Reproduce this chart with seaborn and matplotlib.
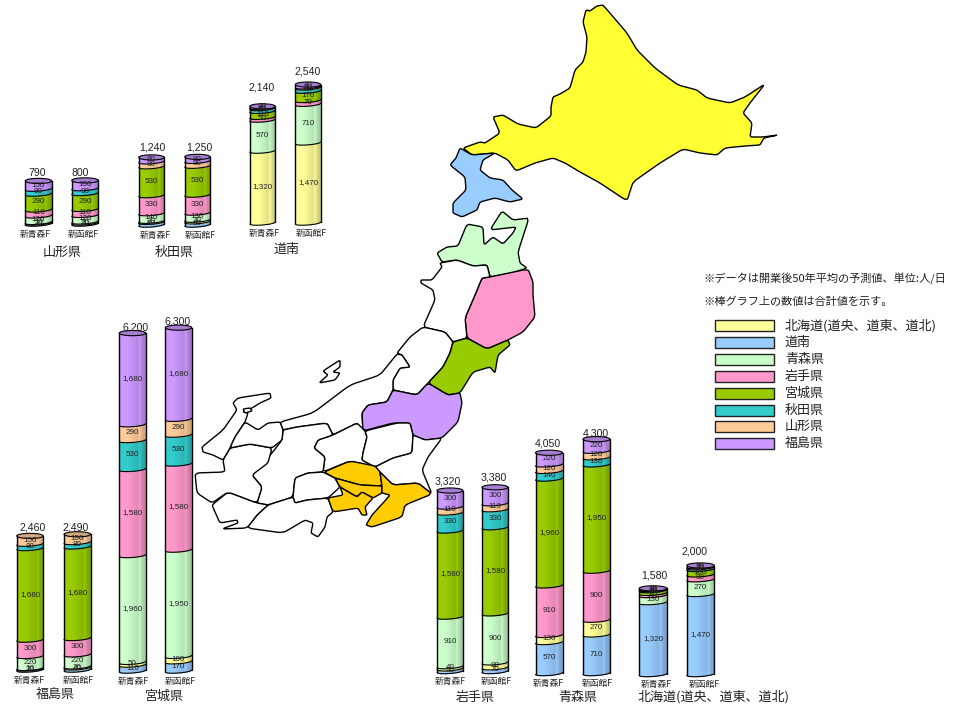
import numpy as np
import matplotlib
matplotlib.use("Agg")
import matplotlib.pyplot as plt
from matplotlib.patches import Polygon, Ellipse, Rectangle
from matplotlib.transforms import ScaledTranslation
import seaborn as sns

# ---------- ridership by origin prefecture (persons per day) ----------
STATIONS = ["新青森F", "新函館F"]
AREAS = ["北海道(道央、道東、道北)", "道南", "青森県", "岩手県", "宮城県", "秋田県", "山形県", "福島県"]

# values follow AREAS; 0 means the area has no segment
yamagata_aomori = [10, 20, 120, 110, 290, 90, 0, 150]
yamagata_hakodate = [20, 20, 120, 110, 290, 90, 0, 150]
akita_aomori = [20, 50, 140, 330, 530, 0, 90, 80]
akita_hakodate = [30, 60, 130, 330, 530, 0, 90, 80]
dounan_aomori = [1320, 0, 570, 50, 110, 50, 20, 20]
dounan_hakodate = [1470, 0, 710, 70, 170, 60, 20, 40]
fukushima_aomori = [10, 20, 220, 300, 1680, 80, 150, 0]
fukushima_hakodate = [20, 40, 220, 300, 1680, 80, 150, 0]
miyagi_aomori = [50, 110, 1960, 1580, 0, 530, 290, 1680]
miyagi_hakodate = [100, 170, 1950, 1580, 0, 530, 290, 1680]
iwate_aomori = [40, 50, 910, 0, 1580, 330, 110, 300]
iwate_hakodate = [90, 70, 900, 0, 1580, 330, 110, 300]
aomori_aomori = [130, 570, 0, 910, 1960, 140, 120, 220]
aomori_hakodate = [270, 710, 0, 900, 1950, 130, 120, 220]
hokkaido_aomori = [0, 1320, 130, 40, 50, 20, 10, 10]
hokkaido_hakodate = [0, 1470, 270, 90, 100, 30, 20, 20]

BAR_COLORS = ["#FFFF99", "#99CCFF", "#CCFFCC", "#FF99CC", "#99CC00", "#33CCCC", "#FFCC99", "#CC99FF"]

# stacks start with 道南, then the rest of Hokkaido, then the AREAS order
STACK_ORDER = [1, 0, 2, 3, 4, 5, 6, 7]

W, H = 956, 707
PX_PER_UNIT = 0.0545

# layout per group, in figure pixels: first bar centre, bar spacing, bar width, rim y,
# title centre, total label centres, horizontal nudge of the station labels
GROUPS = [
    ("山形県", yamagata_aomori, yamagata_hakodate, 38.5, 46.5, 26.5, 224, (62, 252), [(37, 173), (80, 173)], (-3.5, -2)),
    ("秋田県", akita_aomori, akita_hakodate, 151.5, 46, 25.5, 225, (174, 252), [(152, 148), (199, 148)], (3.5, 2.5)),
    ("道南", dounan_aomori, dounan_hakodate, 262.5, 45.5, 25.5, 223, (287, 249), [(262, 87), (308, 72)], (1.5, 3)),
    ("福島県", fukushima_aomori, fukushima_hakodate, 30, 47.3, 26.5, 670, (55.5, 694), [(33, 527), (76, 527)], (-1, 1)),
    ("宮城県", miyagi_aomori, miyagi_hakodate, 132.5, 46, 26.5, 671, (164, 696), [(136, 327), (178, 321)], (0.5, 1.5)),
    ("岩手県", iwate_aomori, iwate_hakodate, 450, 45, 26, 671.5, (475.5, 697), [(448, 481), (494, 477)], (0, 1)),
    ("青森県", aomori_aomori, aomori_hakodate, 549, 47.5, 27, 673.5, (578, 697), [(548, 443), (596, 433)], (-1, 0.5)),
    ("北海道(道央、道東、道北)", hokkaido_aomori, hokkaido_hakodate, 653, 47.5, 27.5, 674.5, (714, 697),
     [(654, 575.5), (695, 552)], (3, 3.5)),
]

# ---------- prefecture outlines, in figure pixels ----------
YELLOW, BLUE, GREEN, PINK, OLIVE, PURPLE, GOLD = (
    "#FFFF33", "#99CCFF", "#CCFFCC", "#FF99CC", "#99CC00", "#CC99FF", "#FFCC00")
MAP_SHAPES = [
    (YELLOW, [(603, 5), (597, 6), (590, 11), (586, 10), (583, 22), (587, 37), (586, 52), (583, 62), (575, 70),
              (570, 88), (560, 94), (553, 97), (551, 107), (551, 116), (536, 128), (518, 124), (503, 115),
              (493, 117), (500, 133), (485, 143), (480, 142), (463, 148), (472, 155), (495, 153), (508, 160),
              (516, 171), (535, 163), (553, 158), (565, 163), (580, 172), (600, 183), (627, 201), (633, 182),
              (660, 163), (683, 149), (700, 153), (717, 155), (725, 148), (745, 146), (760, 145), (764, 138),
              (778, 135), (763, 137), (750, 137), (752, 123), (743, 113), (750, 103), (765, 84), (745, 97),
              (730, 103), (707, 98), (697, 90), (678, 85), (655, 68), (637, 50), (627, 33)]),
    (BLUE, [(460, 148), (456, 158), (450, 165), (465, 177), (466, 190), (453, 203), (453, 213), (462, 217),
            (477, 210), (480, 202), (495, 198), (510, 202), (523, 199), (512, 190), (503, 180), (490, 178),
            (480, 170), (483, 160), (495, 153), (472, 155)]),
    (GREEN, [(437, 253), (447, 247), (458, 246), (467, 224), (483, 227), (484, 245), (493, 237), (503, 244),
             (513, 233), (516, 227), (490, 230), (502, 211), (513, 220), (529, 218), (518, 252), (520, 263),
             (527, 268), (512, 273), (490, 277), (487, 265), (473, 266), (457, 260), (442, 262)]),
    (PINK, [(490, 277), (528, 269), (533, 282), (533, 295), (535, 317), (523, 332), (508, 340), (487, 349),
            (467, 338), (465, 318), (475, 295), (482, 278)]),
    ("white", [(440, 263), (457, 260), (473, 266), (487, 265), (490, 277), (482, 278), (475, 295), (465, 318),
               (467, 338), (453, 342), (445, 332), (423, 327), (435, 300), (433, 290), (421, 283), (421, 280),
               (432, 280), (442, 267)]),
    ("white", [(423, 327), (445, 332), (453, 342), (450, 353), (443, 367), (428, 383), (417, 395), (393, 390),
               (393, 380), (400, 368), (410, 367), (402, 355), (397, 353), (410, 337)]),
    ("white", [(397, 354), (402, 355), (410, 367), (400, 368), (393, 380), (393, 390), (387, 402), (368, 405),
               (362, 413), (363, 431), (357, 423), (333, 435), (327, 423), (297, 427), (283, 430), (280, 422),
               (313, 413), (350, 385), (380, 375)]),
    (OLIVE, [(467, 338), (487, 349), (508, 340), (510, 345), (498, 355), (495, 373), (490, 367), (473, 372),
             (460, 393), (448, 395), (428, 383), (443, 367), (450, 353), (453, 342)]),
    (PURPLE, [(428, 383), (448, 395), (460, 393), (462, 403), (458, 422), (442, 438), (425, 440), (413, 435),
              (410, 423), (393, 423), (363, 431), (362, 413), (368, 405), (387, 402), (393, 390), (417, 395)]),
    ("white", [(340, 360), (323, 371), (328, 375), (319, 383), (335, 380), (340, 373), (333, 372), (340, 367)]),
    ("white", [(314, 448), (318, 440), (333, 435), (357, 423), (365, 431), (367, 437), (363, 453), (362, 460),
               (375, 467), (350, 461), (323, 472), (325, 457)]),
    ("white", [(365, 431), (397, 423), (410, 423), (413, 435), (412, 453), (393, 458), (375, 467), (362, 460),
               (363, 453), (367, 437)]),
    ("white", [(413, 435), (425, 440), (442, 438), (428, 457), (422, 470), (432, 494), (418, 483), (393, 485),
               (380, 472), (375, 467), (393, 458), (412, 453)]),
    ("white", [(283, 430), (297, 427), (327, 423), (333, 435), (318, 440), (314, 448), (325, 457), (323, 472),
               (308, 473), (295, 478), (293, 497), (268, 505), (257, 503), (262, 487), (252, 475), (272, 453),
               (282, 440)]),
    ("white", [(295, 478), (308, 473), (323, 472), (335, 478), (340, 487), (328, 498), (307, 500), (295, 503),
               (293, 497)]),
    ("white", [(268, 505), (293, 497), (295, 503), (307, 500), (328, 498), (333, 512), (327, 517), (325, 527),
               (318, 537), (311, 533), (313, 523), (305, 520), (283, 533), (247, 528), (257, 515)]),
    ("white", [(212, 505), (228, 492), (257, 503), (268, 505), (257, 515), (247, 528), (222, 529), (238, 523),
               (237, 520), (220, 523), (215, 512)]),
    ("white", [(223, 460), (230, 448), (250, 444), (272, 448), (268, 463), (252, 475), (262, 487), (257, 503),
               (228, 492), (212, 503), (197, 493), (195, 473), (225, 472)]),
    ("white", [(202, 447), (223, 430), (237, 410), (233, 403), (238, 398), (270, 393), (271, 398), (260, 403),
               (252, 408), (243, 412), (248, 413), (245, 422), (235, 437), (230, 448), (223, 460), (213, 455),
               (203, 452)]),
    ("white", [(245, 422), (258, 430), (268, 423), (280, 422), (283, 430), (282, 440), (272, 448), (250, 444),
               (230, 448), (235, 437)]),
    ("white", [(243, 409), (250, 408), (252, 411), (245, 413)]),
    (GOLD, [(324, 472), (350, 461), (375, 466), (380, 472), (382, 486), (360, 485), (335, 478)]),
    (GOLD, [(335, 478), (360, 485), (382, 486), (382, 493), (373, 498), (362, 492), (357, 497), (340, 487)]),
    (GOLD, [(340, 487), (357, 497), (362, 492), (373, 498), (365, 507), (367, 515), (362, 515), (358, 508),
            (333, 512), (328, 498), (343, 495)]),
    (GOLD, [(380, 472), (393, 485), (418, 483), (432, 494), (405, 505), (402, 517), (372, 527), (366, 525),
            (372, 515), (383, 503), (390, 495), (382, 493), (382, 486)]),
]


def soften(points, q=0.1, passes=2):
    """Cut polygon corners a little so the coastlines read as curves."""
    pts = np.asarray(points, dtype=float)
    for _ in range(passes):
        nxt = np.roll(pts, -1, axis=0)
        pts = np.column_stack([(1 - q) * pts + q * nxt, q * pts + (1 - q) * nxt]).reshape(-1, 2)
    return pts


# ---------- theme and fonts ----------
sns.set_theme(style="white")
plt.rcParams["font.family"] = ["Noto Sans CJK JP", "DejaVu Sans"]
NUM_FONT = "Liberation Sans"
TEXT = "#222222"

fig = plt.figure(figsize=(W / 100, H / 100), dpi=100, facecolor="white")

# backdrop axes uses figure pixels, so the map, notes and key share one grid
base = fig.add_axes([0, 0, 1, 1], zorder=0)
base.set_xlim(0, W)
base.set_ylim(H, 0)
base.axis("off")

for fill, outline in MAP_SHAPES:
    base.add_patch(Polygon(soften(outline), closed=True, facecolor=fill, edgecolor="black",
                           linewidth=1.0, joinstyle="round"))

base.text(703, 279, "※データは開業後50年平均の予測値、単位:人/日", fontsize=8.05, va="center", color=TEXT)
base.text(703, 302, "※棒グラフ上の数値は合計値を示す。", fontsize=8.05, va="center", color=TEXT)

KEY_Y = [325.5, 342.5, 359.5, 376.5, 393, 410, 426.5, 443.5]
for area, colour, y in zip(AREAS, BAR_COLORS, KEY_Y):
    base.add_patch(Rectangle((715, y - 5.5), 59, 11, facecolor=colour, edgecolor="#222222", linewidth=1.0))
    base.text(785, y, area, fontsize=9.4, va="center", color=TEXT)

# horizontal shading that turns each flat bar into a cylinder
stops = [0.0, 0.05, 0.3, 0.55, 0.72, 0.76, 0.88, 1.0]
alphas = [0.10, 0.0, 0.0, 0.07, 0.12, 0.02, 0.16, 0.24]
shade = np.zeros((1, 40, 4))
shade[0, :, 3] = np.interp(np.linspace(0, 1, 40), stops, alphas)

CAP_PX, BULGE_PX, TILT_PX = 2.6, 2.0, 1.0
T = np.linspace(0, np.pi, 30)


def front_arc(cx, half, value):
    """Front rim of the cylinder at the given height."""
    xs = cx + half * np.cos(T)
    ys = value + (TILT_PX * np.cos(T) - BULGE_PX * np.sin(T)) / PX_PER_UNIT
    return xs, ys


for title, col_a, col_b, first_x, spacing, bar_px, rim_y, title_xy, total_xy, nudge in GROUPS:
    values = np.array([col_a, col_b], dtype=float)
    totals = values.sum(axis=1)
    ymin, ymax = -70.0, totals.max() + 300.0
    left = first_x - spacing / 2
    bottom_px = rim_y - ymin * PX_PER_UNIT
    height_px = (ymax - ymin) * PX_PER_UNIT
    ax = fig.add_axes([left / W, (H - bottom_px) / H, 2 * spacing / W, height_px / H], zorder=1)
    ax.patch.set_alpha(0)

    width = bar_px / spacing
    half = width / 2
    bottoms = np.zeros(2)
    for k in STACK_ORDER:
        colour = BAR_COLORS[k]
        seg = values[:, k]
        if seg.sum() == 0:
            continue
        sns.barplot(x=STATIONS, y=seg, bottom=bottoms, color=colour, saturation=1, width=width,
                    errorbar=None, linewidth=0, ax=ax)
        for i in range(2):
            if seg[i] == 0:
                continue
            xs, ys = front_arc(i, half, bottoms[i])
            ax.fill_between(xs, ys, bottoms[i] + TILT_PX / PX_PER_UNIT, color=colour, linewidth=0)
        bottoms = bottoms + seg

    for i in range(2):
        xs, ys = front_arc(i, half, 0.0)
        body = np.vstack([[[i + half, totals[i]]], np.column_stack([xs, ys]), [[i - half, totals[i]]]])
        im = ax.imshow(shade, extent=(i - half, i + half, ys.min(), totals[i]), aspect="auto", zorder=2)
        im.set_clip_path(Polygon(body, closed=True, transform=ax.transData))

        # rims between the segments, the two sides and the lid
        level = 0.0
        top_colour = BAR_COLORS[0]
        for k in STACK_ORDER:
            if values[i, k] == 0:
                continue
            xs, ys = front_arc(i, half, level)
            ax.plot(xs, ys, color="black", linewidth=0.8, zorder=3)
            level += values[i, k]
            top_colour = BAR_COLORS[k]
        ax.plot([i - half, i - half], [0, totals[i]], color="black", linewidth=1.0, zorder=3)
        ax.plot([i + half, i + half], [TILT_PX / PX_PER_UNIT, totals[i]], color="black", linewidth=1.0, zorder=3)
        lid = tuple(c * 0.82 for c in matplotlib.colors.to_rgb(top_colour))
        ax.add_patch(Ellipse((i, totals[i]), width, 2 * CAP_PX / PX_PER_UNIT, facecolor=lid,
                             edgecolor="black", linewidth=0.8, zorder=4))

        # value inside each segment
        level = 0.0
        for k in STACK_ORDER:
            v = values[i, k]
            if v == 0:
                continue
            ax.text(i, level + v / 2, f"{int(v):,}", ha="center", va="center", fontsize=5.8,
                    family=NUM_FONT, color=TEXT, zorder=6)
            level += v

        # total above the lid
        base.text(total_xy[i][0], total_xy[i][1], f"{int(totals[i]):,}", ha="center", va="center",
                  fontsize=7.6, family=NUM_FONT, color=TEXT)

    ax.set_xlim(-0.5, 1.5)
    ax.set_ylim(ymin, ymax)
    ax.set(xlabel="", ylabel="", yticks=[])
    ax.tick_params(axis="x", length=0, pad=1.2, labelsize=6.3, labelcolor=TEXT)
    for lab, dx in zip(ax.get_xticklabels(), nudge):
        lab.set_transform(lab.get_transform() + ScaledTranslation(dx / 100, 0, fig.dpi_scale_trans))
    sns.despine(ax=ax, left=True, bottom=True)

    base.text(title_xy[0], title_xy[1], title, ha="center", va="center", fontsize=9.4, color=TEXT)

fig.savefig("out.png", dpi=100, facecolor="white")
